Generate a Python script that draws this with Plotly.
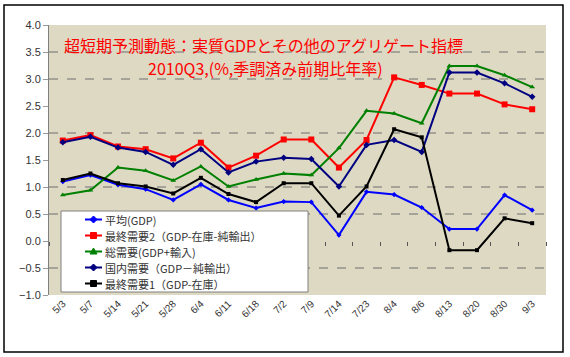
import plotly.graph_objects as go

CATS = ["5/3", "5/7", "5/14", "5/21", "5/28", "6/4", "6/11", "6/18", "7/2", "7/9",
        "7/14", "7/23", "8/4", "8/6", "8/13", "8/20", "8/30", "9/3"]

AVG_GDP = [1.10, 1.22, 1.04, 0.96, 0.76, 1.05, 0.76, 0.61, 0.73, 0.72,
           0.11, 0.91, 0.86, 0.62, 0.22, 0.22, 0.85, 0.57]
FINAL2 = [1.86, 1.96, 1.75, 1.70, 1.53, 1.82, 1.36, 1.58, 1.88, 1.88,
          1.36, 1.87, 3.03, 2.89, 2.73, 2.73, 2.53, 2.44]
TOTAL = [0.85, 0.94, 1.36, 1.30, 1.12, 1.38, 1.01, 1.14, 1.25, 1.22,
         1.72, 2.41, 2.36, 2.18, 3.24, 3.24, 3.07, 2.85]
DOMESTIC = [1.83, 1.93, 1.73, 1.65, 1.41, 1.70, 1.27, 1.47, 1.54, 1.52,
            1.01, 1.78, 1.87, 1.65, 3.12, 3.12, 2.92, 2.67]
FINAL1 = [1.13, 1.25, 1.07, 1.01, 0.88, 1.17, 0.87, 0.72, 1.07, 1.07,
          0.47, 1.01, 2.07, 1.92, -0.17, -0.17, 0.42, 0.33]

NAMES = ["平均(GDP)", "最終需要2（GDP-在庫-純輸出）", "総需要(GDP+輸入)",
         "国内需要（GDP－純輸出）", "最終需要1（GDP-在庫）"]
TITLE1 = "超短期予測動態：実質GDPとその他のアグリゲート指標"
TITLE2 = "2010Q3,(%,季調済み前期比年率)"
GRID_LEVELS = [3.5, 3.0, 2.0, 1.0, 0.5, -0.5]

COLORS = ["#0000FF", "#FF0000", "#008000", "#000080", "#000000"]
SYMBOLS = ["diamond", "square", "triangle-up", "diamond", "square"]
SIZES = [4, 6, 5, 5, 4]
SERIES = [AVG_GDP, FINAL2, TOTAL, DOMESTIC, FINAL1]

# plot area in pixels (layout geometry)
L, R, T, B = 49, 546, 25, 295
W, H = R - L, B - T


def px(x):
    return (x - L) / W


def py(y):
    return (B - y) / H


fig = go.Figure()
for name, vals, col, sym, sz in zip(NAMES, SERIES, COLORS, SYMBOLS, SIZES):
    fig.add_trace(go.Scatter(
        x=CATS, y=vals, name=name, mode="lines+markers",
        line=dict(color=col, width=2),
        marker=dict(color=col, symbol=sym, size=sz),
        showlegend=False,
    ))

# invisible trace to carry the zero-crossing category axis (tick marks)
fig.add_trace(go.Scatter(x=CATS, y=AVG_GDP, xaxis="x2", opacity=0,
                         showlegend=False, hoverinfo="skip", mode="markers"))

for g in GRID_LEVELS:
    fig.add_shape(type="line", xref="paper", yref="y", x0=0, x1=1, y0=g, y1=g,
                  line=dict(color="#6e6e6e", width=1, dash="dash"), layer="below")

# outer chart frame
fig.add_shape(type="rect", xref="paper", yref="paper",
              x0=px(4), x1=px(563), y0=py(352), y1=py(5),
              line=dict(color="#000000", width=1.5), fillcolor="rgba(0,0,0,0)")

# custom legend box (Excel style, compact rows)
LEG_FONT = 11
PITCH = 16
y_first = 219.5
fig.add_shape(type="rect", xref="paper", yref="paper",
              x0=px(61), x1=px(308), y0=py(292), y1=py(211),
              line=dict(color="#808080", width=1), fillcolor="#FFFFFF")
marker_paths = {
    "diamond": "M 0,3.5 L 3.5,0 L 0,-3.5 L -3.5,0 Z",
    "square": "M -3,-3 L 3,-3 L 3,3 L -3,3 Z",
    "triangle-up": "M 0,3.5 L 3.5,-2.5 L -3.5,-2.5 Z",
}
for i, (name, col, sym) in enumerate(zip(NAMES, COLORS, SYMBOLS)):
    yc = y_first + i * PITCH
    fig.add_shape(type="line", xref="paper", yref="paper",
                  x0=px(85), x1=px(102), y0=py(yc), y1=py(yc),
                  line=dict(color=col, width=2))
    fig.add_shape(type="path", xref="paper", yref="paper",
                  xsizemode="pixel", ysizemode="pixel",
                  xanchor=px(93.5), yanchor=py(yc),
                  path=marker_paths[sym], fillcolor=col,
                  line=dict(color=col, width=1))
    fig.add_annotation(text=name, xref="paper", yref="paper",
                       x=px(104), y=py(yc), xanchor="left", yanchor="middle",
                       showarrow=False, borderpad=0,
                       font=dict(family="Noto Sans CJK JP", size=LEG_FONT,
                                 color="#333333"))

fig.add_annotation(text=TITLE1, xref="paper", yref="paper", x=px(263), y=py(45),
                   xanchor="center", yanchor="middle", showarrow=False,
                   font=dict(color="#FF0000", size=16, family="Noto Sans CJK JP"))
fig.add_annotation(text=TITLE2, xref="paper", yref="paper", x=px(265), y=py(68),
                   xanchor="center", yanchor="middle", showarrow=False,
                   font=dict(color="#FF0000", size=16, family="Noto Sans CJK JP"))

fig.update_layout(
    width=570, height=357,
    margin=dict(l=L, r=570 - R, t=T, b=357 - B),
    paper_bgcolor="#FFFFFF",
    plot_bgcolor="#DDD9C3",
    font=dict(family="Liberation Sans", size=11, color="#333333"),
    showlegend=False,
    xaxis=dict(type="category", categoryarray=CATS, range=[-0.5, 17.5],
               tickangle=-45, showgrid=False, showline=False, ticks="",
               tickfont=dict(size=10, color="#333333"), zeroline=False),
    xaxis2=dict(type="category", categoryarray=CATS, range=[-0.5, 17.5],
                overlaying="x", anchor="free", position=0.2,
                tickson="boundaries", ticks="outside", ticklen=4,
                tickcolor="#555555", showticklabels=False, showgrid=False,
                showline=False, zeroline=False),
    yaxis=dict(range=[-1, 4], dtick=0.5, tickformat=".1f", showgrid=False,
               zeroline=False, showline=True, linecolor="#808080", linewidth=1,
               ticks="outside", ticklen=5, tickcolor="#9a9a9a",
               tickfont=dict(size=11, color="#333333")),
)

fig.write_html("out.html", config={"displayModeBar": False},
               post_script="document.body.style.margin='0px';")
